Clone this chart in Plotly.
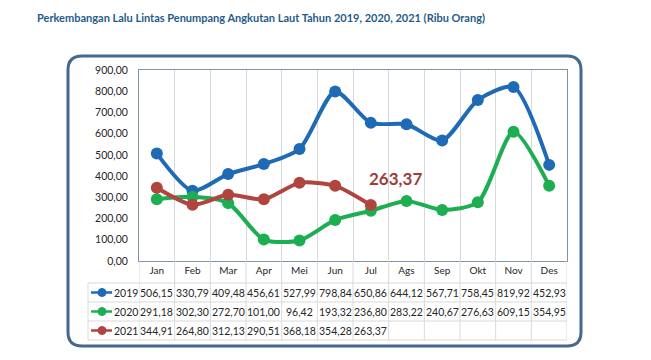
import plotly.graph_objects as go

months = ["Jan", "Feb", "Mar", "Apr", "Mei", "Jun", "Jul", "Ags", "Sep", "Okt", "Nov", "Des"]
y2019 = [506.15, 330.79, 409.48, 456.61, 527.99, 798.84, 650.86, 644.12, 567.71, 758.45, 819.92, 452.93]
y2020 = [291.18, 302.30, 272.70, 101.00, 96.42, 193.32, 236.80, 283.22, 240.67, 276.63, 609.15, 354.95]
y2021 = [344.91, 264.80, 312.13, 290.51, 368.18, 354.28, 263.37]
series_names = ["2019", "2020", "2021"]
colors = ["#1F6AB4", "#1DAE52", "#B0443F"]
title = "Perkembangan Lalu Lintas Penumpang Angkutan Laut Tahun 2019, 2020, 2021 (Ribu Orang)"
callout_value = 263.37
yticks = [0, 100, 200, 300, 400, 500, 600, 700, 800, 900]

OFF = 8  # page body margin
W, H = 651 - OFF, 360 - OFF
PL, PR, PT, PB = 139, 567, 70, 261  # plot area in page pixels


def px(x):
    return (x - PL) / (PR - PL)


def py(y):
    return (PB - y) / (PB - PT)


def fmt(v):
    return f"{v:.2f}".replace(".", ",")


fig = go.Figure()
for name, vals, col in zip(series_names, [y2019, y2020, y2021], colors):
    fig.add_trace(go.Scatter(
        x=months[:len(vals)], y=vals, name=name, mode="lines+markers",
        line=dict(color=col, width=4, shape="spline", smoothing=0.7),
        marker=dict(color=col, size=12),
        showlegend=False, hoverinfo="skip"))

shapes = []
annotations = []
grid = "#D9D9D9"
txt = "#262626"
font_main = "Lato"

# outer rounded box
x0, x1, y0, y1 = px(68), px(581), py(346), py(56)
rx = 14 / (PR - PL)
ry = 14 / (PB - PT)
path = (f"M {x0+rx},{y1} L {x1-rx},{y1} Q {x1},{y1} {x1},{y1-ry} "
        f"L {x1},{y0+ry} Q {x1},{y0} {x1-rx},{y0} L {x0+rx},{y0} "
        f"Q {x0},{y0} {x0},{y0+ry} L {x0},{y1-ry} Q {x0},{y1} {x0+rx},{y1} Z")
shapes.append(dict(type="path", xref="paper", yref="paper", path=path,
                   line=dict(color="#44698F", width=3), layer="below"))

# table rows
row_tops = [283, 302, 321, 340]
for r in row_tops:
    shapes.append(dict(type="line", xref="paper", yref="paper",
                       x0=px(88), x1=px(PR), y0=py(r), y1=py(r),
                       line=dict(color=grid, width=1)))
shapes.append(dict(type="line", xref="paper", yref="paper",
                   x0=px(88), x1=px(88), y0=py(283), y1=py(340),
                   line=dict(color=grid, width=1)))
for i in range(len(months) + 1):
    shapes.append(dict(type="line", xref="x", yref="paper",
                       x0=i - 0.5, x1=i - 0.5, y0=py(261), y1=py(340),
                       line=dict(color=grid, width=1)))

# table values and legend keys
for k, (name, vals, col) in enumerate(zip(series_names, [y2019, y2020, y2021], colors)):
    yc = (row_tops[k] + row_tops[k + 1]) / 2
    for i, v in enumerate(vals):
        annotations.append(dict(x=months[i], y=py(yc), xref="x", yref="paper",
                                xanchor="center", yanchor="middle",
                                text=fmt(v), showarrow=False,
                                font=dict(size=10.5, color=txt, family=font_main)))
    shapes.append(dict(type="line", xref="paper", yref="paper",
                       x0=px(91), x1=px(112), y0=py(yc), y1=py(yc),
                       line=dict(color=col, width=2.5)))
    shapes.append(dict(type="circle", xref="paper", yref="paper",
                       x0=px(98), x1=px(106), y0=py(yc + 4), y1=py(yc - 4),
                       fillcolor=col, line=dict(color=col, width=1)))
    annotations.append(dict(x=px(111.5), y=py(yc), xref="paper", yref="paper",
                            xanchor="left", yanchor="middle", text=name, showarrow=False,
                            font=dict(size=10.5, color=txt, family=font_main)))

# callout label
annotations.append(dict(x=6.7, y=390, xref="x", yref="y", text=f"<b>{fmt(callout_value)}</b>",
                        xanchor="center", yanchor="middle",
                        showarrow=False, font=dict(size=17, color="#A03C3B", family=font_main)))

# title
annotations.append(dict(x=px(261), y=py(17), xref="paper", yref="paper",
                        xanchor="center", yanchor="middle",
                        text=f"<b>{title}</b>", showarrow=False,
                        font=dict(size=11, color="#1F5C8A", family=font_main)))

fig.update_layout(
    width=W, height=H,
    margin=dict(l=PL - OFF, r=651 - PR, t=PT - OFF, b=360 - PB, autoexpand=False),
    paper_bgcolor="white", plot_bgcolor="white",
    separators=",.",
    shapes=shapes, annotations=annotations,
    xaxis=dict(type="category", categoryorder="array", categoryarray=months,
               tickson="boundaries", showgrid=True, gridcolor=grid, gridwidth=1,
               showline=True, linecolor="#7F93AD", linewidth=1, mirror=True,
               ticks="", tickfont=dict(size=10, color=txt, family=font_main),
               range=[-0.5, 11.5], fixedrange=True, automargin=False),
    yaxis=dict(range=[0, 900], tickvals=yticks, tickformat=".2f",
               showgrid=False, zeroline=False,
               showline=True, linecolor="#7F93AD", linewidth=1, mirror=True,
               ticks="", ticklabelstandoff=8, automargin=False,
               tickfont=dict(size=10.5, color=txt, family=font_main)),
)

fig.write_html("out.html")
